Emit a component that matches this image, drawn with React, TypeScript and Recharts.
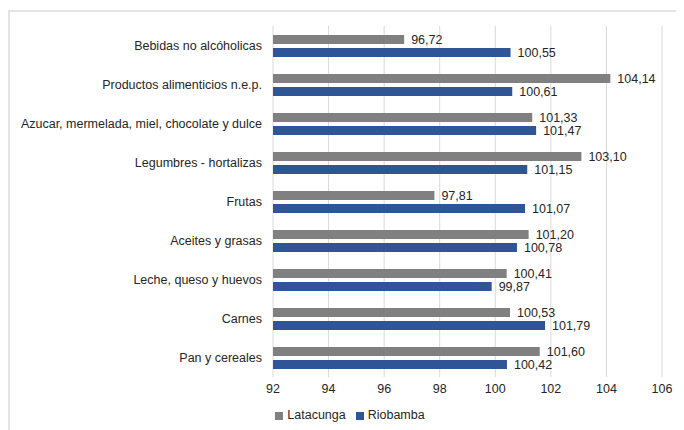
import { BarChart, Bar, XAxis, YAxis, CartesianGrid, Legend, LabelList } from 'recharts';

const categories = [
  'Bebidas no alcóholicas',
  'Productos alimenticios n.e.p.',
  'Azucar, mermelada, miel, chocolate y dulce',
  'Legumbres - hortalizas',
  'Frutas',
  'Aceites y grasas',
  'Leche, queso y huevos',
  'Carnes',
  'Pan y cereales',
];
const latacunga = [96.72, 104.14, 101.33, 103.1, 97.81, 101.2, 100.41, 100.53, 101.6];
const riobamba = [100.55, 100.61, 101.47, 101.15, 101.07, 100.78, 99.87, 101.79, 100.42];
const xTicks = [92, 94, 96, 98, 100, 102, 104, 106];

const data = categories.map((name, i) => ({ name, Latacunga: latacunga[i], Riobamba: riobamba[i] }));

const fmt = (v: number) => v.toFixed(2).replace('.', ',');
const font = '"Liberation Sans", Arial, sans-serif';
const textColor = '#262626';
const fs = 12.5;

// single-line category label (the default tick wraps long names)
const CategoryTick = ({ x, y, payload }: any) => (
  <text x={x - 3} y={y} dy={4} textAnchor="end" fill={textColor} fontSize={fs} fontFamily={font}>
    {payload.value}
  </text>
);

export default function App() {
  return (
    <div style={{ position: 'relative', width: 676, height: 422, fontFamily: font }}>
      <div
        style={{
          position: 'absolute',
          left: 0,
          top: 2,
          width: 676,
          height: 420,
          borderTop: '2px solid #e4e4e4',
          borderLeft: '2px solid #e4e4e4',
          boxSizing: 'border-box',
        }}
      />
      <BarChart
        width={676}
        height={422}
        data={data}
        layout="vertical"
        margin={{ top: 18, right: 22, left: 0, bottom: 5 }}
        barCategoryGap={8}
        barGap={4}
      >
        <CartesianGrid horizontal={false} stroke="#d9d9d9" />
        <XAxis
          type="number"
          domain={[92, 106]}
          ticks={xTicks}
          axisLine={false}
          tickLine={false}
          tickMargin={1}
          height={30}
          tick={{ fill: textColor, fontSize: fs, fontFamily: font }}
        />
        <YAxis
          type="category"
          dataKey="name"
          width={265}
          axisLine={false}
          tickLine={false}
          interval={0}
          tick={<CategoryTick />}
        />
        <Legend
          verticalAlign="bottom"
          iconType="square"
          iconSize={8}
          wrapperStyle={{ fontSize: fs, fontFamily: font, lineHeight: '16px', paddingBottom: 2, paddingLeft: 20 }}
          formatter={(v: string) => <span style={{ color: textColor }}>{v}</span>}
        />
        <Bar dataKey="Latacunga" fill="#808080" barSize={9} isAnimationActive={false}>
          <LabelList dataKey="Latacunga" position="right" offset={7} formatter={(v: any) => fmt(Number(v))} style={{ fill: textColor, fontSize: fs, fontFamily: font }} />
        </Bar>
        <Bar dataKey="Riobamba" fill="#2f5597" barSize={9} isAnimationActive={false}>
          <LabelList dataKey="Riobamba" position="right" offset={7} formatter={(v: any) => fmt(Number(v))} style={{ fill: textColor, fontSize: fs, fontFamily: font }} />
        </Bar>
      </BarChart>
    </div>
  );
}
